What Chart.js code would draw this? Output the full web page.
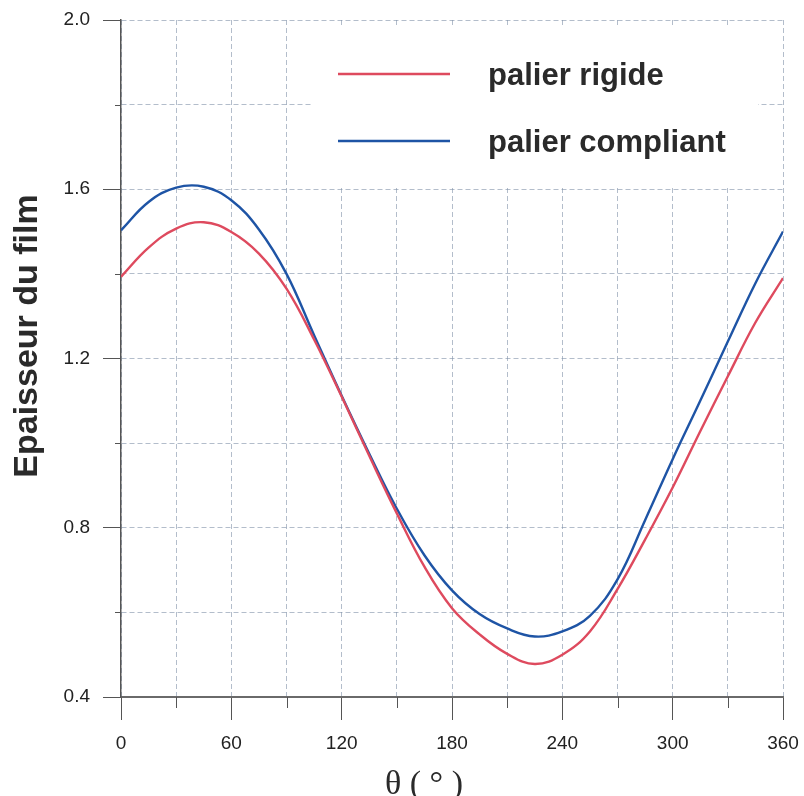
<!DOCTYPE html>
<html>
<head>
<meta charset="utf-8">
<script src="https://cdn.jsdelivr.net/npm/chart.js@4/dist/chart.umd.min.js"></script>
<style>
html,body{margin:0;padding:0;background:#fff;}
canvas{display:block;}
</style>
</head>
<body>
<canvas id="c" width="804" height="796"></canvas>
<script>
// ---- data ----
const theta = [0,15,30,45,60,75,90,105,120,135,150,165,180,195,210,225,240,255,270,285,300,315,330,345,360];
const rigide = [1.393,1.462,1.507,1.522,1.499,1.448,1.365,1.245,1.110,0.970,0.834,0.708,0.610,0.548,0.502,0.478,0.500,0.555,0.655,0.772,0.895,1.028,1.158,1.285,1.390];
const compliant = [1.503,1.570,1.604,1.606,1.574,1.505,1.400,1.255,1.112,0.975,0.845,0.735,0.652,0.596,0.562,0.543,0.555,0.592,0.678,0.818,0.962,1.100,1.240,1.378,1.500];
const seriesLabels = ['palier rigide','palier compliant'];
const xTickLabels = ['0','60','120','180','240','300','360'];
const yTickLabels = ['0.4','0.8','1.2','1.6','2.0'];
const xTitle = 'θ ( ° )';
const yTitle = 'Epaisseur du film';

const RED = 'rgb(222,74,94)';
const BLUE = 'rgb(30,84,165)';
const SANS = 'Arial, "Liberation Sans", sans-serif';
const SERIF = '"Times New Roman", "Liberation Serif", serif';

const isMajorX = v => xTickLabels.includes(String(Math.round(v)));
const isMajorY = v => yTickLabels.includes((Math.round(v*10)/10).toFixed(1));

const decor = {
  id: 'decor',
  beforeDatasetsDraw(chart) {
    const ctx = chart.ctx;
    ctx.save();
    ctx.fillStyle = '#ffffff';
    ctx.fillRect(312, 25, 446, 163);
    ctx.restore();
  },
  afterDraw(chart) {
    const ctx = chart.ctx, xs = chart.scales.x, ys = chart.scales.y;
    ctx.save();
    // minor tick marks
    ctx.strokeStyle = '#555';
    ctx.lineWidth = 1;
    ys.ticks.forEach(t => {
      if (!isMajorY(t.value)) {
        const p = Math.round(ys.getPixelForValue(t.value)) + 0.5;
        ctx.beginPath(); ctx.moveTo(ys.right - 6, p); ctx.lineTo(ys.right, p); ctx.stroke();
      }
    });
    xs.ticks.forEach(t => {
      if (!isMajorX(t.value)) {
        const p = Math.round(xs.getPixelForValue(t.value)) + 0.5;
        ctx.beginPath(); ctx.moveTo(p, xs.top); ctx.lineTo(p, xs.top + 11); ctx.stroke();
      }
    });
    // legend
    chart.data.datasets.forEach((ds, i) => {
      const y = 74 + i * 67;
      ctx.strokeStyle = ds.borderColor;
      ctx.lineWidth = 2.5;
      ctx.beginPath(); ctx.moveTo(338, y); ctx.lineTo(450, y); ctx.stroke();
      ctx.fillStyle = '#2a2a2a';
      ctx.font = 'bold 31px ' + SANS;
      ctx.textAlign = 'left';
      ctx.textBaseline = 'alphabetic';
      ctx.fillText(ds.label, 488, y + 11);
    });
    // axis titles
    ctx.fillStyle = '#2a2a2a';
    ctx.font = '34px ' + SERIF;
    ctx.textAlign = 'center';
    ctx.textBaseline = 'alphabetic';
    ctx.fillText(xTitle, 424, 794);
    ctx.translate(37, 336);
    ctx.rotate(-Math.PI / 2);
    ctx.font = 'bold 34px ' + SANS;
    ctx.fillText(yTitle, 0, 0);
    ctx.restore();
  }
};

new Chart(document.getElementById('c'), {
  type: 'line',
  data: {
    datasets: [
      { label: seriesLabels[0], data: theta.map((t, i) => ({x: t, y: rigide[i]})),
        borderColor: RED, borderWidth: 2.4, pointRadius: 0, tension: 0.4, fill: false },
      { label: seriesLabels[1], data: theta.map((t, i) => ({x: t, y: compliant[i]})),
        borderColor: BLUE, borderWidth: 2.4, pointRadius: 0, tension: 0.4, fill: false }
    ]
  },
  options: {
    responsive: false,
    animation: false,
    layout: { padding: { top: 20, right: 21, left: 0, bottom: 0 } },
    plugins: { legend: { display: false }, tooltip: { enabled: false } },
    scales: {
      x: {
        type: 'linear', min: 0, max: 360,
        afterFit(s) { s.height = 99; s.paddingLeft = 0; s.paddingRight = 0; },
        ticks: {
          stepSize: 30, autoSkip: false, maxRotation: 0, padding: 12,
          color: '#222', font: { family: SANS, size: 19 },
          callback: v => isMajorX(v) ? String(Math.round(v)) : ''
        },
        grid: {
          color: 'rgba(128,145,168,0.6)', lineWidth: 1, tickLength: 23,
          tickColor: c => (c.tick && isMajorX(c.tick.value)) ? '#555' : 'rgba(0,0,0,0)',
          tickWidth: 1
        },
        border: { color: '#6a6a6a', width: 2, dash: [5, 3] }
      },
      y: {
        type: 'linear', min: 0.4, max: 2.0,
        afterFit(s) { s.width = 121; s.paddingTop = 0; s.paddingBottom = 0; },
        ticks: {
          stepSize: 0.2, autoSkip: false, padding: 13,
          color: '#222', font: { family: SANS, size: 19 },
          callback: v => isMajorY(v) ? (Math.round(v*10)/10).toFixed(1) : ''
        },
        grid: {
          color: 'rgba(128,145,168,0.6)', lineWidth: 1, tickLength: 18,
          tickColor: c => (c.tick && isMajorY(c.tick.value)) ? '#555' : 'rgba(0,0,0,0)',
          tickWidth: 1
        },
        border: { color: '#555', width: 1.5, dash: [5, 3] }
      }
    }
  },
  plugins: [decor]
});
</script>
</body>
</html>
